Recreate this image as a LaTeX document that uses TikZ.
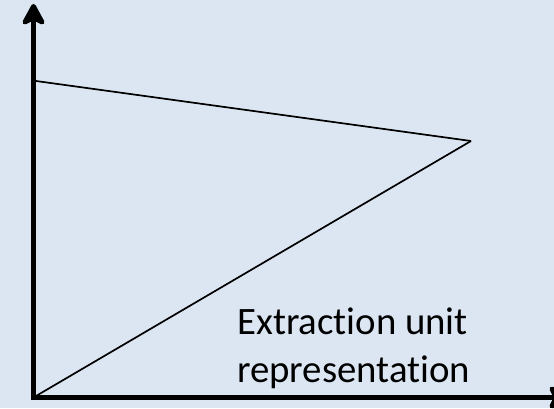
\documentclass[tikz,border=0pt]{standalone}
\usepackage{fontspec}
\setmainfont{Carlito}[Ligatures=CommonOff]
\usetikzlibrary{arrows.meta}
\definecolor{paneblue}{HTML}{DCE6F2}
\tikzset{
  axisline/.style={line width=5.5pt, -{Stealth[length=26pt, width=28pt, inset=7pt, round]}},
  thinline/.style={line width=1.7pt},
  caption/.style={font=\fontsize{38.8pt}{47.3pt}\selectfont, align=left, inner sep=0pt, anchor=base west}
}
\begin{document}
\begin{tikzpicture}[x=1pt, y=1pt]
  % page frame and background
  \fill[paneblue] (0,0) rectangle (554,408);
  \useasboundingbox (0,0) rectangle (554,408);
  % reference points
  \coordinate (O) at (33.5,10.5);
  \coordinate (Ytop) at (33.5,404);
  \coordinate (Xend) at (570,10.5);
  \coordinate (A) at (36,327);
  \coordinate (B) at (36,12);
  \coordinate (V) at (471,267);
  % the two straight lines
  \draw[thinline] (A) -- (V);
  \draw[thinline] (B) -- (V);
  % axes
  \draw[axisline] (O) -- (Ytop);
  \draw[axisline] ([xshift=-2.75pt]O) -- (Xend);
  % label (base anchor sits on the last line)
  \node[caption] (lbl) at (237,26) {Extraction unit\\representation};
\end{tikzpicture}
\end{document}
